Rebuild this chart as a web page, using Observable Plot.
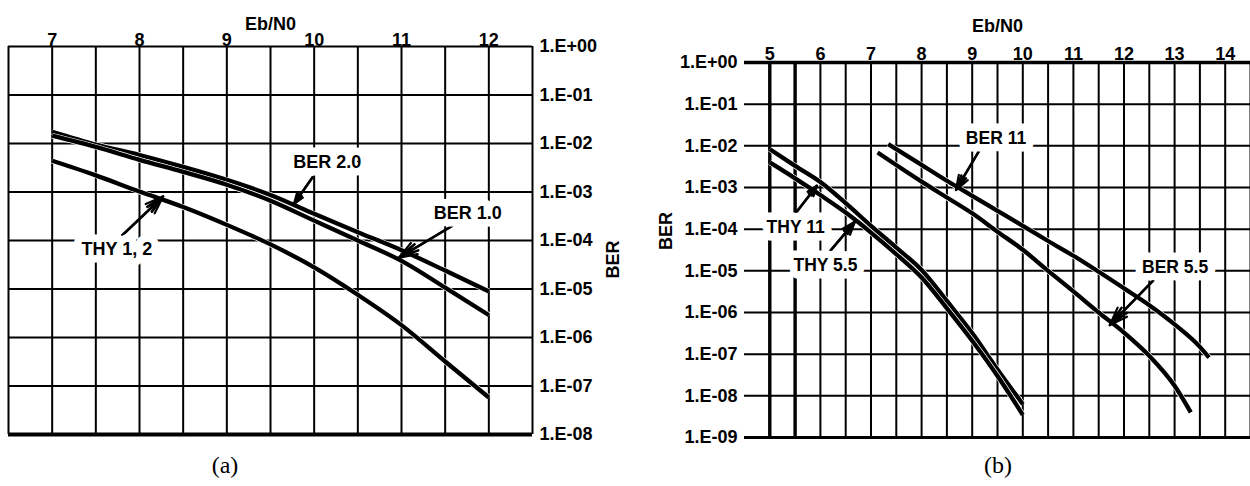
<!DOCTYPE html>
<html><head><meta charset="utf-8">
<script src="https://cdn.jsdelivr.net/npm/d3@7"></script>
<script src="https://cdn.jsdelivr.net/npm/@observablehq/plot@0.6"></script>
<style>
body{margin:0;background:#fff;}
#wrap{position:relative;width:1250px;height:486px;overflow:hidden;background:#fff;}
.panel{position:absolute;top:0;}
.cap{position:absolute;top:451px;font-family:"Liberation Serif","Times New Roman",serif;font-size:24px;line-height:28px;transform:translateX(-50%);color:#000;}
</style></head>
<body><div id="wrap"></div>
<script>
// ---------- Panel (a) data ----------
const ebA = [7, 7.5, 8, 8.5, 9, 9.5, 10, 10.5, 11, 11.5, 12];
const thy12 = [4.4e-3, 2.2e-3, 1.02e-3, 4.9e-4, 2.1e-4, 8.3e-5, 2.8e-5, 7.6e-6, 1.8e-6, 3.2e-7, 5.8e-8];
const ber20 = [1.74e-2, 9.5e-3, 5.8e-3, 3.3e-3, 1.78e-3, 8.7e-4, 3.55e-4, 1.48e-4, 6.3e-5, 2.4e-5, 8.9e-6];
const ber10 = [1.45e-2, 8.5e-3, 4.6e-3, 2.6e-3, 1.41e-3, 6.6e-4, 2.57e-4, 1.0e-4, 3.8e-5, 1.07e-5, 2.9e-6];
const xTicksA = [7, 8, 9, 10, 11, 12];
const yTicksA = [1, 1e-1, 1e-2, 1e-3, 1e-4, 1e-5, 1e-6, 1e-7, 1e-8];
const yLabelsA = ["1.E+00","1.E-01","1.E-02","1.E-03","1.E-04","1.E-05","1.E-06","1.E-07","1.E-08"];
const labelTextA = ["BER 2.0", "BER 1.0", "THY 1, 2"];
const labelXA = [10.15, 11.76, 7.74];
const labelYA = [4.1e-3, 3.7e-4, 6.7e-5];
const arrowFromXA = [9.98, 11.58, 7.80];
const arrowFromYA = [2.0e-3, 2.0e-4, 1.27e-4];
const arrowToXA = [9.77, 10.97, 8.27];
const arrowToYA = [5.7e-4, 4.4e-5, 8.1e-4];

// ---------- Panel (b) data ----------
const ebThyB = [5, 5.5, 6, 6.5, 7, 7.5, 8, 8.5, 9, 9.5, 10];
const thy11 = [8.3e-3, 3.3e-3, 1.35e-3, 4.2e-4, 1.2e-4, 3.6e-5, 1.05e-5, 1.9e-6, 3.2e-7, 4.3e-8, 6.3e-9];
const thy55 = [4e-3, 1.66e-3, 6.6e-4, 2.5e-4, 8.3e-5, 2.5e-5, 6.9e-6, 1.26e-6, 2.1e-7, 3.0e-8, 3.5e-9];
const ebBer11 = [7.34, 8, 8.5, 9, 9.5, 10, 10.5, 11, 11.5, 12, 12.5, 13, 13.5, 13.68];
const ber11 = [1.1e-2, 3.5e-3, 1.45e-3, 6.3e-4, 2.75e-4, 1.2e-4, 5.2e-5, 2.3e-5, 9.5e-6, 3.8e-6, 1.5e-6, 5.2e-7, 1.5e-7, 8.3e-8];
const ebBer55 = [7.13, 8, 8.5, 9, 9.5, 10, 10.5, 11, 11.5, 12, 12.5, 13, 13.32];
const ber55 = [6.9e-3, 1.38e-3, 5.75e-4, 2.4e-4, 8.7e-5, 3.2e-5, 1e-5, 3.2e-6, 1.0e-6, 3.3e-7, 9.1e-8, 1.74e-8, 4e-9];
const xTicksB = [5, 6, 7, 8, 9, 10, 11, 12, 13, 14];
const yTicksB = [1, 1e-1, 1e-2, 1e-3, 1e-4, 1e-5, 1e-6, 1e-7, 1e-8, 1e-9];
const yLabelsB = ["1.E+00","1.E-01","1.E-02","1.E-03","1.E-04","1.E-05","1.E-06","1.E-07","1.E-08","1.E-09"];
const labelTextB = ["BER 11", "THY 11", "THY 5.5", "BER 5.5"];
const labelXB = [9.47, 5.51, 6.10, 13.01];
const labelYB = [1.55e-2, 1.1e-4, 1.35e-5, 1.2e-5];
const arrowFromXB = [9.14, 5.53, 6.15, 12.58];
const arrowFromYB = [7.7e-3, 2.6e-4, 2.6e-5, 5.9e-6];
const arrowToXB = [8.68, 5.93, 6.68, 11.72];
const arrowToYB = [8.8e-4, 1.1e-3, 1.5e-4, 5.0e-7];

const captions = ["(a)", "(b)"];

// ---------- helpers ----------
const series = (name, xs, ys) => xs.map((x, i) => ({s: name, x, y: ys[i]}));
const labels = (t, xs, ys) => t.map((text, i) => ({text, x: xs[i], y: ys[i]}));
const arrows = (x1, y1, x2, y2) => x1.map((_, i) => ({x1: x1[i], y1: y1[i], x2: x2[i], y2: y2[i]}));
const baseStyle = {fontFamily: "'Liberation Sans', Arial, sans-serif", fontSize: "15px", fontWeight: "bold", color: "black", background: "white", overflow: "visible"};

const seriesA = [series("BER 2.0", ebA, ber20), series("BER 1.0", ebA, ber10), series("THY 1, 2", ebA, thy12)];
const seriesB = [series("THY 11", ebThyB, thy11), series("THY 5.5", ebThyB, thy55), series("BER 11", ebBer11, ber11), series("BER 5.5", ebBer55, ber55)];

const gridXA = d3.range(6.5, 12.51, 0.5);
const gridXB = d3.range(5, 14.51, 0.5);

function curveMarks(list) {
  return list.flatMap(data => [
    Plot.line(data, {x: "x", y: "y", stroke: "white", strokeWidth: 5.6, curve: "monotone-x", strokeLinecap: "butt"}),
    Plot.line(data, {x: "x", y: "y", stroke: "black", strokeWidth: 4.3, curve: "monotone-x", strokeLinecap: "butt"})
  ]);
}
function annotMarks(arr, lab, size) {
  return [
    Plot.arrow(arr, {x1: "x1", y1: "y1", x2: "x2", y2: "y2", stroke: "black", strokeWidth: 2.2, headLength: 13, headAngle: 40}),
    Plot.arrow(arr, {x1: "x1", y1: "y1", x2: "x2", y2: "y2", stroke: "black", strokeWidth: 2.6, headLength: 12, headAngle: 20}),
    Plot.text(lab, {x: "x", y: "y", text: "text", fontSize: size, fill: "black", stroke: "white", strokeWidth: 15})
  ];
}

const figA = Plot.plot({
  width: 625, height: 445,
  marginLeft: 8, marginRight: 93, marginTop: 46, marginBottom: 11,
  style: baseStyle,
  x: {domain: [6.5, 12.5], axis: null},
  y: {type: "log", domain: [1e-8, 1], axis: null},
  marks: [
    Plot.ruleX(gridXA, {stroke: "black", strokeWidth: 2}),
    Plot.ruleY(yTicksA, {stroke: "black", strokeWidth: 2}),
    Plot.ruleY([1e-8], {stroke: "black", strokeWidth: 4}),
    ...curveMarks(seriesA),
    ...annotMarks(arrows(arrowFromXA, arrowFromYA, arrowToXA, arrowToYA), labels(labelTextA, labelXA, labelYA), 18),
    Plot.text(xTicksA, {x: d => d, text: d => String(d), frameAnchor: "top", dy: -13, fontSize: 18, fill: "black"}),
    Plot.text(yTicksA, {y: d => d, text: (d, i) => yLabelsA[i], frameAnchor: "right", dx: 7, textAnchor: "start", fontSize: 18, fill: "black"}),
    Plot.text(["Eb/N0"], {frameAnchor: "top", dy: -29, fontSize: 18, fill: "black"}),
    Plot.text(["BER"], {frameAnchor: "right", dx: 81, rotate: -90, fontSize: 18, fill: "black"})
  ]
});

const figB = Plot.plot({
  width: 625, height: 445,
  marginLeft: 119, marginRight: 0, marginTop: 62, marginBottom: 8,
  style: baseStyle,
  x: {domain: [4.5, 14.5], axis: null},
  y: {type: "log", domain: [1e-9, 1], axis: null},
  marks: [
    Plot.ruleX(gridXB, {stroke: "black", strokeWidth: 2}),
    Plot.ruleX([5, 5.5], {stroke: "black", strokeWidth: 3.4}),
    Plot.ruleY(yTicksB, {stroke: "black", strokeWidth: 2}),
    Plot.ruleY([1], {stroke: "black", strokeWidth: 3.5}),
    Plot.ruleY([1e-9], {stroke: "black", strokeWidth: 3}),
    ...curveMarks(seriesB),
    ...annotMarks(arrows(arrowFromXB, arrowFromYB, arrowToXB, arrowToYB), labels(labelTextB, labelXB, labelYB), 17.5),
    Plot.text(xTicksB, {x: d => d, text: d => String(d), frameAnchor: "top", dy: -15, fontSize: 18, fill: "black"}),
    Plot.text(yTicksB, {y: d => d, text: (d, i) => yLabelsB[i], frameAnchor: "left", dx: -7, textAnchor: "end", fontSize: 18, fill: "black"}),
    Plot.text(["Eb/N0"], {frameAnchor: "top", dy: -43, fontSize: 18, fill: "black"}),
    Plot.text(["BER"], {frameAnchor: "left", dx: -78, rotate: -90, fontSize: 18, fill: "black"})
  ]
});

const wrap = document.getElementById("wrap");
const pa = document.createElement("div"); pa.className = "panel"; pa.style.left = "0px"; pa.appendChild(figA);
const pb = document.createElement("div"); pb.className = "panel"; pb.style.left = "625px"; pb.appendChild(figB);
wrap.appendChild(pa); wrap.appendChild(pb);
const capX = [225, 998];
captions.forEach((c, i) => {
  const d = document.createElement("div"); d.className = "cap"; d.style.left = capX[i] + "px"; d.textContent = c; wrap.appendChild(d);
});
</script>
</body></html>
